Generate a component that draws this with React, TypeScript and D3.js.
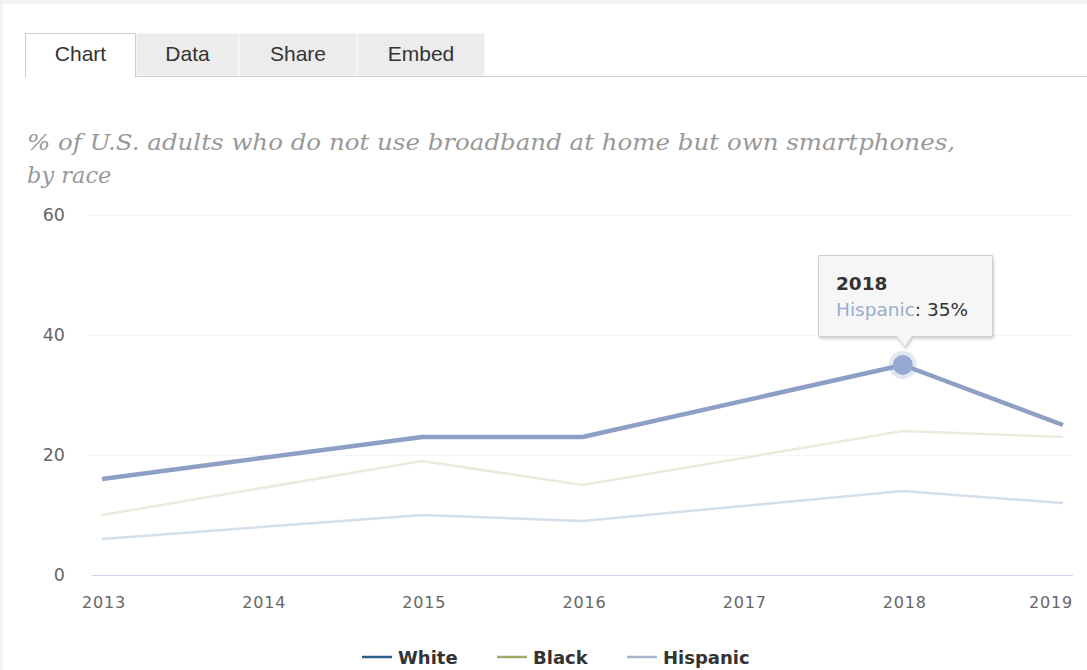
import React from "react";
import * as d3 from "d3";

const years = [2013, 2015, 2016, 2018, 2019];
const tickYears = [2013, 2014, 2015, 2016, 2017, 2018, 2019];
const yTicks = [0, 20, 40, 60];
const white = [6, 10, 9, 14, 12];
const black = [10, 19, 15, 24, 23];
const hispanic = [16, 23, 23, 35, 25];
const tabs = ["Chart", "Data", "Share", "Embed"];
const legendItems = ["White", "Black", "Hispanic"];
const legendColors = ["#2a5f8c", "#a3a76c", "#a9b3cb"];

export default function App() {
  const x = d3.scaleLinear().domain([2013, 2019]).range([102, 1063]);
  const y = d3.scaleLinear().domain([0, 60]).range([575, 215]);
  const line = d3
    .line<number>()
    .x((_, i) => x(years[i]))
    .y((v) => y(v));

  const tabX = [25, 136, 239, 357, 485];
  const legendX = [362, 497, 627];
  const hx = x(2018);
  const hy = y(35);

  return (
    <svg
      width={1087}
      height={670}
      style={{ position: "absolute", left: 0, top: 0, background: "#f2f3f6" }}
    >
      <defs>
        <filter id="sh" x="-20%" y="-20%" width="140%" height="150%">
          <feDropShadow dx="1" dy="2" stdDeviation="1.5" floodColor="#000" floodOpacity="0.18" />
        </filter>
      </defs>
      <rect x={3} y={4} width={1084} height={666} fill="#ffffff" />

      {/* tabs */}
      {tabs.map((t, i) => (
        <g key={t}>
          <rect
            x={tabX[i] + 0.5}
            y={33.5}
            width={tabX[i + 1] - tabX[i] - 1}
            height={i === 0 ? 44 : 42}
            fill={i === 0 ? "#ffffff" : "#ececec"}
            stroke={i === 0 ? "#cccccc" : "none"}
          />
          <text
            x={(tabX[i] + tabX[i + 1]) / 2}
            y={61}
            textAnchor="middle"
            fontFamily="Liberation Sans, Arial, sans-serif"
            fontSize={21}
            fill="#333"
          >
            {t}
          </text>
        </g>
      ))}
      <line x1={135} x2={1087} y1={76.5} y2={76.5} stroke="#cccccc" />
      <rect x={26} y={74} width={109} height={4} fill="#ffffff" />

      {/* title */}
      <text
        fontFamily="DejaVu Serif, Georgia, serif"
        fontStyle="italic"
        fontSize={22.5}
        fill="#999999"
      >
        <tspan x={27} y={150} textLength={928} lengthAdjust="spacingAndGlyphs">
          % of U.S. adults who do not use broadband at home but own smartphones,
        </tspan>
        <tspan x={27} y={183}>by race</tspan>
      </text>

      {/* grid */}
      {yTicks.map((t) => (
        <g key={t}>
          {t === 0 ? (
            <line x1={92} x2={1073} y1={y(t) + 0.5} y2={y(t) + 0.5} stroke="#ccd6eb" />
          ) : (
            <line
              x1={90}
              x2={1073}
              y1={y(t) + 0.5}
              y2={y(t) + 0.5}
              stroke="#d8d8d8"
              strokeDasharray="1,3"
            />
          )}
          <text
            x={65}
            y={y(t) + 6}
            textAnchor="end"
            fontFamily="DejaVu Sans, Verdana, sans-serif"
            fontSize={17.5}
            fill="#666"
          >
            {t}
          </text>
        </g>
      ))}

      {tickYears.map((yr, i) => (
        <text
          key={yr}
          x={i === tickYears.length - 1 ? x(yr) - 12 : x(yr) + 2}
          y={608}
          textAnchor="middle"
          fontFamily="DejaVu Sans, Verdana, sans-serif"
          fontSize={16}
          letterSpacing={0.8}
          fill="#666"
        >
          {yr}
        </text>
      ))}

      {/* series */}
      <path d={line(white) || ""} fill="none" stroke="#d3dfea" strokeWidth={2.5} strokeLinejoin="round" />
      <path d={line(black) || ""} fill="none" stroke="#eaebdc" strokeWidth={2.5} strokeLinejoin="round" />
      <path d={line(hispanic) || ""} fill="none" stroke="#8e9fc6" strokeWidth={4.5} strokeLinejoin="round" />

      {/* hover marker */}
      <circle cx={hx} cy={hy} r={14} fill="#8e9fc6" opacity={0.25} />
      <circle cx={hx} cy={hy} r={10} fill="#97a9d0" />

      {/* tooltip */}
      <path
        d={`M${818.5},${255.5} H${992.5} V${336.5} H${hx + 9} L${hx + 2},${347} L${hx - 6},${336.5} H${818.5} Z`}
        fill="#f7f7f7"
        fillOpacity={0.95}
        stroke="#cfcfcf"
        filter="url(#sh)"
      />
      <text x={836} y={290} fontFamily="DejaVu Sans, sans-serif" fontSize={18.5} fontWeight="bold" fill="#333">
        2018
      </text>
      <text x={836} y={316} fontFamily="DejaVu Sans, sans-serif" fontSize={18.5} fill="#333">
        <tspan fill="#9aabcf">Hispanic</tspan>: 35%
      </text>

      {/* legend */}
      {legendItems.map((l, i) => (
        <g key={l}>
          <line x1={legendX[i]} x2={legendX[i] + 30} y1={657} y2={657} stroke={legendColors[i]} strokeWidth={2.5} />
          <text
            x={legendX[i] + 36}
            y={664}
            fontFamily="DejaVu Sans, Verdana, sans-serif"
            fontSize={18}
            fontWeight="bold"
            fill="#333"
          >
            {l}
          </text>
        </g>
      ))}
    </svg>
  );
}
